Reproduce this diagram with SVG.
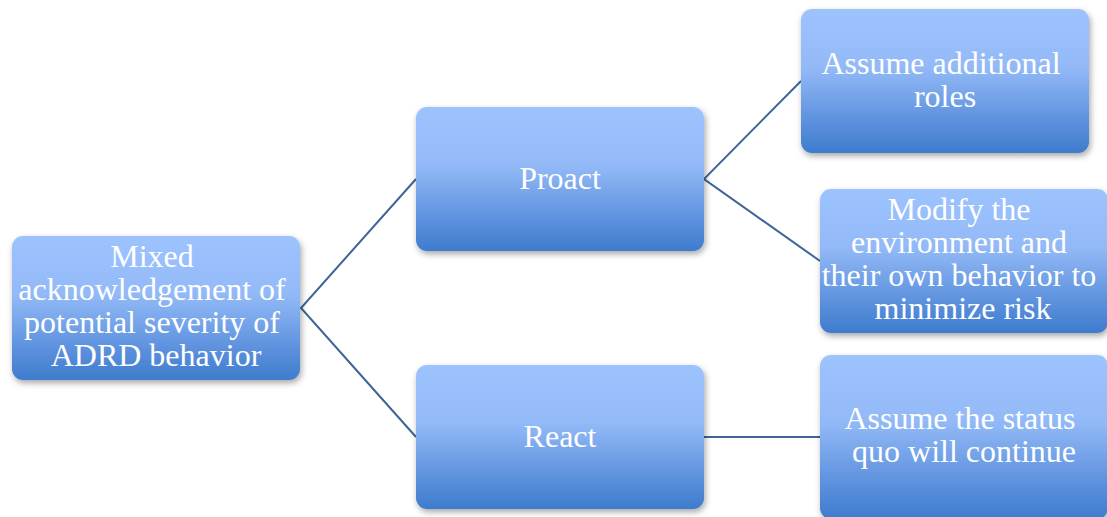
<svg xmlns="http://www.w3.org/2000/svg" width="1107" height="517" viewBox="0 0 1107 517">
  <defs>
    <linearGradient id="boxFill" x1="0" y1="0" x2="0" y2="1">
      <stop offset="0" stop-color="#9dc3ff"/>
      <stop offset="0.4" stop-color="#93baf7"/>
      <stop offset="0.8" stop-color="#5a8fdc"/>
      <stop offset="1" stop-color="#3e7ccd"/>
    </linearGradient>
    <filter id="shadow" x="-10%" y="-10%" width="125%" height="130%">
      <feDropShadow dx="1.5" dy="3" stdDeviation="3" flood-color="#000" flood-opacity="0.35"/>
    </filter>
  </defs>
  <style>
    .box { fill: url(#boxFill); filter: url(#shadow); }
    .label { font-family: "Liberation Serif", "Times New Roman", serif; font-size: 32px; fill: #ffffff; text-anchor: middle; }
    .link { stroke: #3d6597; stroke-width: 2; fill: none; }
  </style>
  <rect width="1107" height="517" fill="#ffffff"/>

  <!-- tree branches -->
  <g id="connectors">
    <polyline class="link" points="416,179 301,308 416,437"/>
    <polyline class="link" points="801,81 704,179 820,261"/>
    <line class="link" x1="704" y1="437" x2="820" y2="437"/>
  </g>

  <g id="node-root">
    <rect class="box" x="12" y="236" width="288" height="144" rx="11"/>
    <text class="label" x="156">
      <tspan x="156" y="267">Mixed</tspan>
      <tspan x="156" y="300">acknowledgement of</tspan>
      <tspan x="156" y="333">potential severity of</tspan>
      <tspan x="156" y="366">ADRD behavior</tspan>
    </text>
  </g>

  <g id="node-proact">
    <rect class="box" x="416" y="107" width="288" height="144" rx="11"/>
    <text class="label" x="560" y="189">Proact</text>
  </g>

  <g id="node-react">
    <rect class="box" x="416" y="365" width="288" height="144" rx="11"/>
    <text class="label" x="560" y="447">React</text>
  </g>

  <g id="node-roles">
    <rect class="box" x="801" y="9" width="288" height="144" rx="11"/>
    <text class="label">
      <tspan x="945" y="74">Assume additional</tspan>
      <tspan x="945" y="107">roles</tspan>
    </text>
  </g>

  <g id="node-modify">
    <rect class="box" x="820" y="189" width="288" height="144" rx="11"/>
    <text class="label">
      <tspan x="963" y="220">Modify the</tspan>
      <tspan x="963" y="253">environment and</tspan>
      <tspan x="963" y="286">their own behavior to</tspan>
      <tspan x="963" y="319">minimize risk</tspan>
    </text>
  </g>

  <g id="node-status-quo">
    <rect class="box" x="820" y="355" width="288" height="164" rx="11"/>
    <text class="label">
      <tspan x="964" y="429">Assume the status</tspan>
      <tspan x="964" y="462">quo will continue</tspan>
    </text>
  </g>
</svg>
